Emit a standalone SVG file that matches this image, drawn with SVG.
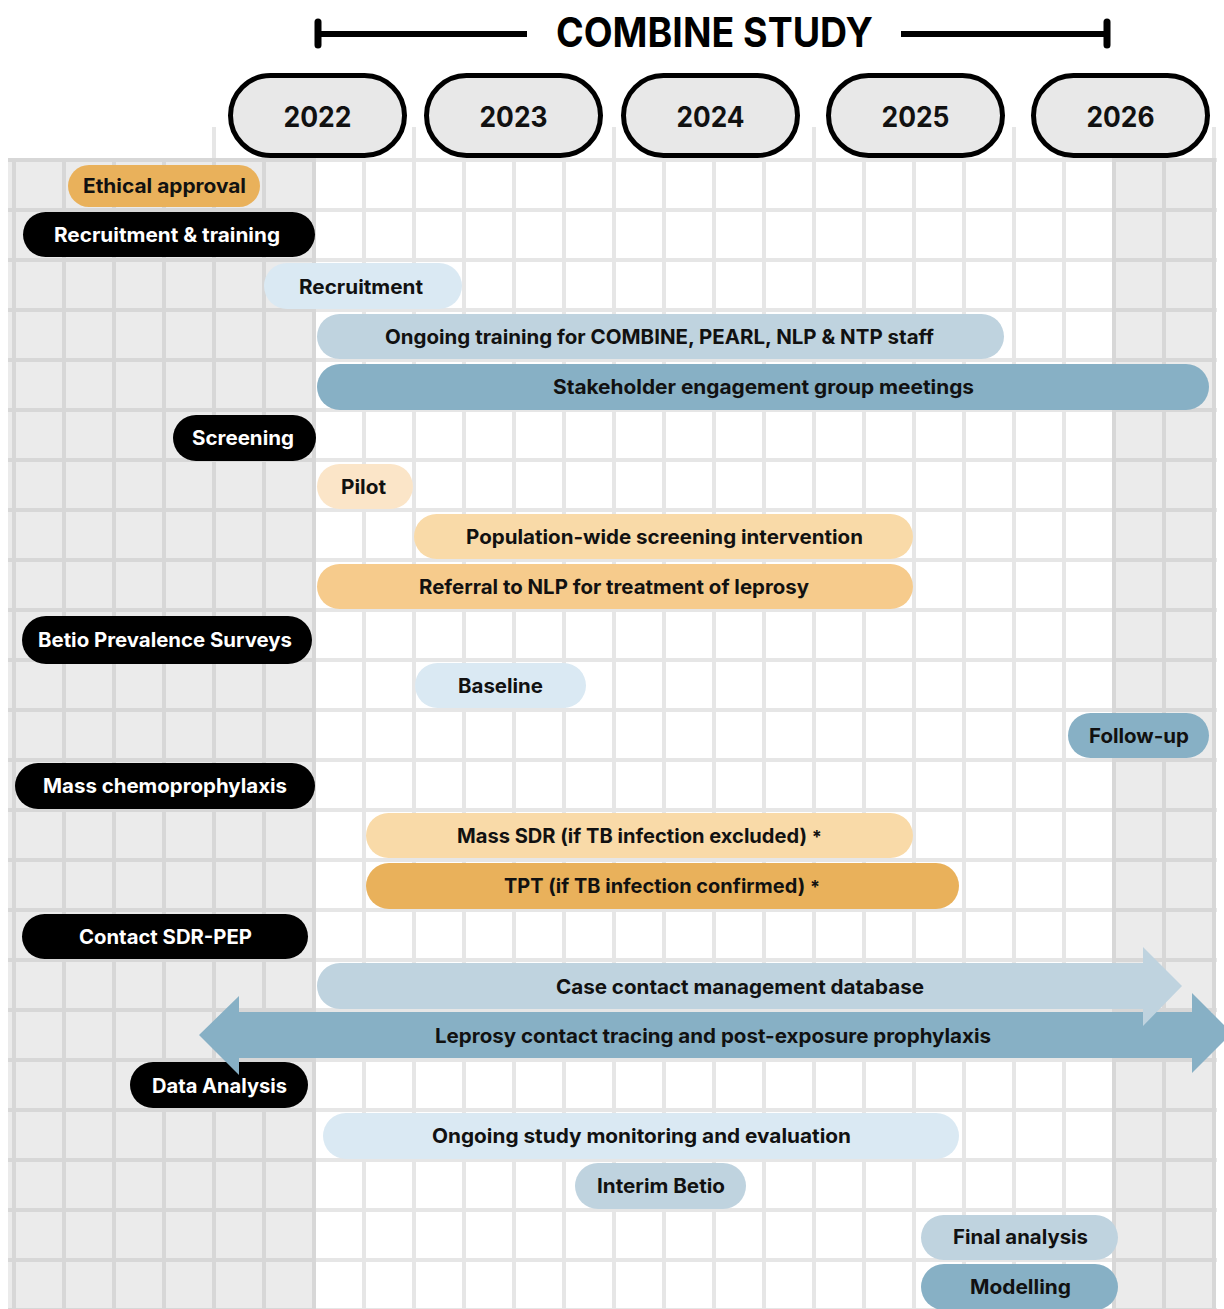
<svg xmlns="http://www.w3.org/2000/svg" width="1224" height="1309" viewBox="0 0 1224 1309">
<style>
  .lbl { font-family: Inter, "Liberation Sans", Arial, sans-serif; font-weight: bold; font-size: 20px; text-anchor: middle; fill: #111; }
  .wlbl { fill: #fff; }
  .year { font-family: Inter, "Liberation Sans", Arial, sans-serif; font-weight: bold; font-size: 28px; text-anchor: middle; fill: #111; }
  .title { font-family: Inter, "Liberation Sans", Arial, sans-serif; font-weight: bold; font-size: 41px; text-anchor: middle; fill: #000; }
  .ypill { fill: #e8e8e8; stroke: #000; stroke-width: 5; }
  .blk { fill: #000; }
  .c-or { fill: #E9B15B; }
  .c-pk { fill: #FBE5C8; }
  .c-pl { fill: #F9DAA8; }
  .c-pm { fill: #F6CB8C; }
  .c-bl { fill: #DAE9F3; }
  .c-bm { fill: #BFD3DF; }
  .c-bd { fill: #87B0C5; }
</style>
<defs>
  <pattern id="gridWhite" patternUnits="userSpaceOnUse" x="12" y="158" width="50" height="50">
    <rect x="0" y="0" width="50" height="50" fill="#ffffff"/>
    <rect x="0" y="0" width="4" height="50" fill="#e6e6e6"/>
    <rect x="0" y="0" width="50" height="4" fill="#e6e6e6"/>
  </pattern>
  <pattern id="gridGray" patternUnits="userSpaceOnUse" x="12" y="158" width="50" height="50">
    <rect x="0" y="0" width="50" height="50" fill="#ebebeb"/>
    <rect x="0" y="0" width="4" height="50" fill="#d7d7d7"/>
    <rect x="0" y="0" width="50" height="4" fill="#d7d7d7"/>
  </pattern>
</defs>
<rect x="0" y="0" width="1224" height="1309" fill="#ffffff"/>
<g id="grid">
  <rect x="212" y="127" width="1005" height="1182" fill="url(#gridWhite)"/>
  <rect x="8" y="158" width="308" height="1151" fill="url(#gridGray)"/>
  <rect x="1112" y="158" width="104" height="1151" fill="url(#gridGray)"/>
</g>
<g id="header">
  <line x1="318" y1="34" x2="527" y2="34" stroke="#000" stroke-width="6"/>
  <line x1="318" y1="22" x2="318" y2="45" stroke="#000" stroke-width="7" stroke-linecap="round"/>
  <line x1="901" y1="34" x2="1107" y2="34" stroke="#000" stroke-width="6"/>
  <line x1="1107" y1="22" x2="1107" y2="45" stroke="#000" stroke-width="7" stroke-linecap="round"/>
  <text class="title" x="714.5" y="47" textLength="317" lengthAdjust="spacingAndGlyphs">COMBINE STUDY</text>
</g>
<g id="years">
  <g id="y2022"><rect class="ypill" x="230.5" y="75.5" width="174" height="80" rx="40"/><text class="year" x="317.5" y="127" textLength="68" lengthAdjust="spacingAndGlyphs">2022</text></g>
  <g id="y2023"><rect class="ypill" x="426.5" y="75.5" width="174" height="80" rx="40"/><text class="year" x="513.5" y="127" textLength="68" lengthAdjust="spacingAndGlyphs">2023</text></g>
  <g id="y2024"><rect class="ypill" x="623.5" y="75.5" width="174" height="80" rx="40"/><text class="year" x="710.5" y="127" textLength="68" lengthAdjust="spacingAndGlyphs">2024</text></g>
  <g id="y2025"><rect class="ypill" x="828.5" y="75.5" width="174" height="80" rx="40"/><text class="year" x="915.5" y="127" textLength="68" lengthAdjust="spacingAndGlyphs">2025</text></g>
  <g id="y2026"><rect class="ypill" x="1033.5" y="75.5" width="174" height="80" rx="40"/><text class="year" x="1120.5" y="127" textLength="68" lengthAdjust="spacingAndGlyphs">2026</text></g>
</g>
<g id="tasks">
  <g id="ethical-approval"><rect class="c-or" x="68" y="165" width="192" height="42" rx="21"/><text class="lbl" x="164.5" y="193" textLength="163" lengthAdjust="spacingAndGlyphs">Ethical approval</text></g>
  <g id="recruitment-training"><rect class="blk" x="23" y="212" width="292" height="45" rx="22.5"/><text class="lbl wlbl" x="167" y="242" textLength="226" lengthAdjust="spacingAndGlyphs">Recruitment &amp; training</text></g>
  <g id="recruitment"><rect class="c-bl" x="264" y="263" width="198" height="46" rx="23"/><text class="lbl" x="361" y="294" textLength="124" lengthAdjust="spacingAndGlyphs">Recruitment</text></g>
  <g id="ongoing-training"><rect class="c-bm" x="317" y="314" width="687" height="45" rx="22.5"/><text class="lbl" x="659.5" y="344" textLength="549" lengthAdjust="spacingAndGlyphs">Ongoing training for COMBINE, PEARL, NLP &amp; NTP staff</text></g>
  <g id="stakeholder"><rect class="c-bd" x="317" y="364" width="892" height="46" rx="23"/><text class="lbl" x="763.5" y="394" textLength="421" lengthAdjust="spacingAndGlyphs">Stakeholder engagement group meetings</text></g>
  <g id="screening"><rect class="blk" x="173" y="415" width="143" height="46" rx="23"/><text class="lbl wlbl" x="243" y="445" textLength="102" lengthAdjust="spacingAndGlyphs">Screening</text></g>
  <g id="pilot"><rect class="c-pk" x="317" y="464" width="96" height="45" rx="22.5"/><text class="lbl" x="363.5" y="494" textLength="45" lengthAdjust="spacingAndGlyphs">Pilot</text></g>
  <g id="population-screening"><rect class="c-pl" x="414" y="514" width="499" height="45" rx="22.5"/><text class="lbl" x="664.5" y="544" textLength="397" lengthAdjust="spacingAndGlyphs">Population-wide screening intervention</text></g>
  <g id="referral"><rect class="c-pm" x="317" y="564" width="596" height="45" rx="22.5"/><text class="lbl" x="614" y="594" textLength="390" lengthAdjust="spacingAndGlyphs">Referral to NLP for treatment of leprosy</text></g>
  <g id="betio-surveys"><rect class="blk" x="22" y="616" width="290" height="48" rx="24"/><text class="lbl wlbl" x="165" y="647" textLength="254" lengthAdjust="spacingAndGlyphs">Betio Prevalence Surveys</text></g>
  <g id="baseline"><rect class="c-bl" x="415" y="663" width="171" height="45" rx="22.5"/><text class="lbl" x="500.5" y="693" textLength="85" lengthAdjust="spacingAndGlyphs">Baseline</text></g>
  <g id="follow-up"><rect class="c-bd" x="1068" y="713" width="141" height="45" rx="22.5"/><text class="lbl" x="1139" y="743" textLength="100" lengthAdjust="spacingAndGlyphs">Follow-up</text></g>
  <g id="mass-chemoprophylaxis"><rect class="blk" x="15" y="763" width="300" height="46" rx="23"/><text class="lbl wlbl" x="165" y="793" textLength="244" lengthAdjust="spacingAndGlyphs">Mass chemoprophylaxis</text></g>
  <g id="mass-sdr"><rect class="c-pl" x="366" y="813" width="547" height="45" rx="22.5"/><text class="lbl" x="639.5" y="843" textLength="365" lengthAdjust="spacingAndGlyphs">Mass SDR (if TB infection excluded) <tspan font-size="18">*</tspan></text></g>
  <g id="tpt"><rect class="c-or" x="366" y="863" width="593" height="46" rx="23"/><text class="lbl" x="662" y="893" textLength="316" lengthAdjust="spacingAndGlyphs">TPT (if TB infection confirmed) <tspan font-size="18">*</tspan></text></g>
  <g id="contact-sdr-pep"><rect class="blk" x="22" y="914" width="286" height="45" rx="22.5"/><text class="lbl wlbl" x="165.5" y="944" textLength="173" lengthAdjust="spacingAndGlyphs">Contact SDR-PEP</text></g>
  <g id="data-analysis"><rect class="blk" x="130" y="1062" width="178" height="46" rx="23"/><text class="lbl wlbl" x="219.5" y="1093" textLength="135" lengthAdjust="spacingAndGlyphs">Data Analysis</text></g>
  <g id="leprosy-contact-tracing"><path class="c-bd" d="M239,1012 H1192 V993 L1232,1033 L1192,1073 V1058 H239 V1075 L199,1035 L239,996 Z"/><text class="lbl" x="713" y="1043" textLength="556" lengthAdjust="spacingAndGlyphs">Leprosy contact tracing and post-exposure prophylaxis</text></g>
  <g id="case-contact-database"><path class="c-bm" d="M340,963 H1143 V947 L1182,986 L1143,1026 V1009 H340 A23,23 0 0 1 340,963 Z"/><text class="lbl" x="740" y="994" textLength="368" lengthAdjust="spacingAndGlyphs">Case contact management database</text></g>
  <g id="ongoing-study-monitoring"><rect class="c-bl" x="323" y="1113" width="636" height="46" rx="23"/><text class="lbl" x="641.5" y="1143" textLength="419" lengthAdjust="spacingAndGlyphs">Ongoing study monitoring and evaluation</text></g>
  <g id="interim-betio"><rect class="c-bm" x="575" y="1163" width="171" height="46" rx="23"/><text class="lbl" x="661" y="1193" textLength="128" lengthAdjust="spacingAndGlyphs">Interim Betio</text></g>
  <g id="final-analysis"><rect class="c-bm" x="921" y="1215" width="197" height="45" rx="22.5"/><text class="lbl" x="1020.5" y="1244" textLength="135" lengthAdjust="spacingAndGlyphs">Final analysis</text></g>
  <g id="modelling"><rect class="c-bd" x="921" y="1264" width="197" height="46" rx="23"/><text class="lbl" x="1020.5" y="1294" textLength="101" lengthAdjust="spacingAndGlyphs">Modelling</text></g>
</g>
<g id="connectors"/>
</svg>
